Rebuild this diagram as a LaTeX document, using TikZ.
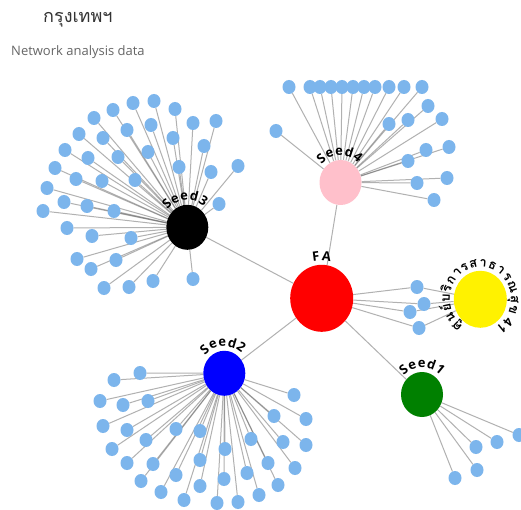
\documentclass[tikz,border=0pt]{standalone}
\usepackage{fontspec}
\setmainfont{Open Sans}
\newfontfamily\thaifont[Script=Thai]{Loma}
\usetikzlibrary{decorations.text,backgrounds,shapes.geometric}
\definecolor{leafc}{HTML}{7CB5EC}
\definecolor{linkc}{RGB}{100,100,100}
\definecolor{titlec}{HTML}{333333}
\definecolor{subc}{HTML}{666666}
\definecolor{pinkc}{HTML}{FFC0CB}
\definecolor{greenc}{HTML}{008000}
\newcommand\lblfnt{\fontsize{13}{15}\bfseries\selectfont}
\newcommand\thlblfnt{\thaifont\fontsize{13}{15}\bfseries\selectfont}
% font, node name, centre angle, x radius, y radius, text
\newcommand\arclbl[6]{{#1%
  \path[decorate,decoration={text along path,text align=center,text={#6}}]
    (#2.center) ++({#3+85}:#4 and #5)
    arc[start angle={#3+85},end angle={#3-85},x radius=#4,y radius=#5];}}
\newcommand\arclblwide[6]{{#1%
  \path[decorate,decoration={text along path,text align=center,text={#6}}]
    (#2.center) ++({#3+175}:#4 and #5)
    arc[start angle={#3+175},end angle={#3-175},x radius=#4,y radius=#5];}}
\begin{document}
\begin{tikzpicture}[x=1pt,y=1pt,
  leaf/.style={ellipse,fill=leafc,minimum width=13pt,minimum height=14pt,inner sep=0pt},
  hub/.style={ellipse,inner sep=0pt,minimum width=42pt,minimum height=45pt},
  link/.style={draw=linkc,draw opacity=0.5,line width=1pt}]
\useasboundingbox (0,0) rectangle (521,-510);
% title
\node[anchor=west,inner sep=0pt,text=titlec] (title) at (43,-20) {\thaifont\fontsize{18}{20}\selectfont กรุงเทพฯ};
\node[anchor=west,inner sep=0pt,text=subc] (subtitle) at (11,-52) {\fontsize{13}{15}\selectfont Network analysis data};
% hubs
\node[ellipse,inner sep=0pt,minimum width=63pt,minimum height=67pt,fill=red] (fa) at (321.7,-298.3) {};
\node[hub,fill=black] (s3) at (187.3,-227.3) {};
\node[hub,fill=pinkc] (s4) at (340.5,-182.5) {};
\node[hub,fill=blue] (s2) at (224.3,-373.3) {};
\node[hub,fill=greenc] (s1) at (422,-394.5) {};
\node[ellipse,inner sep=0pt,minimum width=53pt,minimum height=57pt,fill=yellow] (yc) at (480.3,-299.3) {};
% leaves
\foreach \x/\y [count=\i] in {289/87,310/87,320/87,331/87,342/87,353/87,364/87,375/87,389/87,404/87,422/87,276/131,428/106,389/124,408/120,442/119,426/150,449/147,408/161,417/183,447/178,434/200}
  \node[leaf] (s4l\i) at (\x,-\y) {};
\foreach \x/\y [count=\i] in {133/103,154/101,175/109,113/110,94/118,193/123,216/121,127/130,151/125,79/134,103/138,173/138,204/146,65/150,88/158,118/157,148/152,179/167,211/172,238/166,55/168,76/179,102/181,135/180,47/188,219/204,64/202,87/206,114/211,43/211,67/228,92/236,131/238,77/259,116/260,91/269,153/281,193/279,104/288,129/287}
  \node[leaf] (s3l\i) at (\x,-\y) {};
\foreach \x/\y [count=\i] in {140/373,114/380,100/401,123/405,148/401,294/395,103/426,127/430,146/440,176/429,200/431,274/416,306/419,112/449,225/449,251/439,283/442,306/445,127/463,153/464,200/460,268/463,295/468,141/481,176/475,224/479,247/473,278/485,161/492,200/486,184/500,217/503,238/502,259/495}
  \node[leaf] (s2l\i) at (\x,-\y) {};
\foreach \x/\y [count=\i] in {519/435,497/442,476/447,477/470,455/478}
  \node[leaf] (s1l\i) at (\x,-\y) {};
\foreach \x/\y [count=\i] in {417/287,424/304,410/312,419/328}
  \node[leaf] (yl\i) at (\x,-\y) {};
% links
\begin{scope}[on background layer]
  \fill[white] (0,0) rectangle (521,-510);
  \foreach \h in {s3,s4,s2,s1} \draw[link] (fa) -- (\h);
  \foreach \i in {1,...,22} \draw[link] (s4) -- (s4l\i);
  \foreach \i in {1,...,40} \draw[link] (s3) -- (s3l\i);
  \foreach \i in {1,...,34} \draw[link] (s2) -- (s2l\i);
  \foreach \i in {1,...,5} \draw[link] (s1) -- (s1l\i);
  \foreach \i in {1,...,4} {\draw[link] (fa) -- (yl\i); \draw[link] (yl\i) -- (yc);}
\end{scope}
% curved labels
\arclbl{\lblfnt}{fa}{90}{36pt}{38pt}{{F\kern1.5pt}{A}}
\arclbl{\lblfnt}{s3}{95}{25.5pt}{27pt}{{S\kern0.7pt}{e\kern0.7pt}{e\kern0.7pt}{d\kern0.7pt}{3}}
\arclbl{\lblfnt}{s4}{92}{25.5pt}{27pt}{{S\kern0.7pt}{e\kern0.7pt}{e\kern0.7pt}{d\kern0.7pt}{4}}
\arclbl{\lblfnt}{s2}{93}{25.5pt}{27pt}{{S\kern0.7pt}{e\kern0.7pt}{e\kern0.7pt}{d\kern0.7pt}{2}}
\arclbl{\lblfnt}{s1}{90}{25.5pt}{27pt}{{S\kern0.7pt}{e\kern0.7pt}{e\kern0.7pt}{d\kern0.7pt}{1}}
\arclblwide{\thlblfnt}{yc}{88}{30.5pt}{32.5pt}{{ศู\kern1pt}{น\kern1pt}{ย์\kern1pt}{บ\kern1pt}{ริ\kern1pt}{ก\kern1pt}{า\kern1pt}{ร\kern1pt}{ส\kern1pt}{า\kern1pt}{ธ\kern1pt}{า\kern1pt}{ร\kern1pt}{ณ\kern1pt}{สุ\kern1pt}{ข\kern1pt}{\kern3pt}{4\kern1pt}{1}}
\end{tikzpicture}
\end{document}
